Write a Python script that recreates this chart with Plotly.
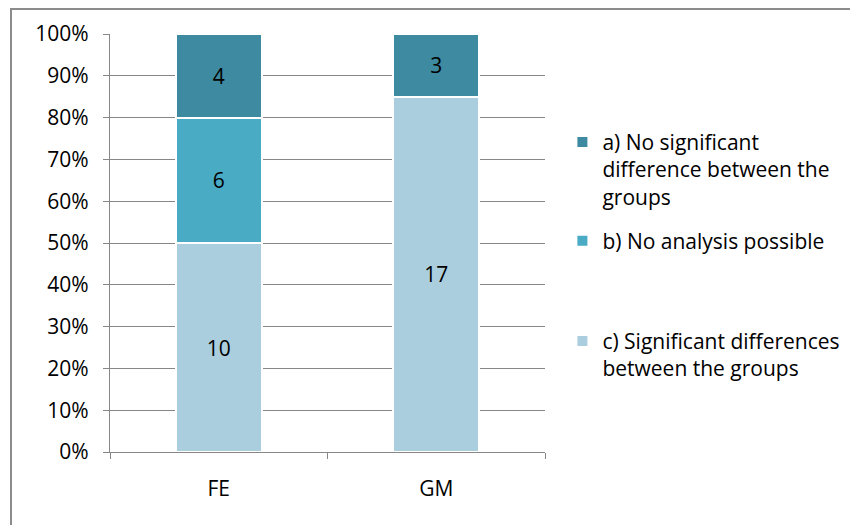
import plotly.graph_objects as go

# Study groups and the number of outcomes in each category
groups = ["FE", "GM"]
sig_diff = [10, 17]      # c) Significant differences between the groups
no_analysis = [6, 0]     # b) No analysis possible
no_sig_diff = [4, 3]     # a) No significant difference between the groups

series_names = [
    "c) Significant differences<br>between the groups",
    "b) No analysis possible",
    "a) No significant<br>difference between the<br>groups",
]
series_colors = ["#AACEDE", "#4AABC5", "#3D8AA1"]

FONT = "Open Sans, Noto Sans, DejaVu Sans, sans-serif"
FS = 21
GRID = "#878787"

fig = go.Figure()
for name, vals, color, leg, rank in zip(
    series_names, [sig_diff, no_analysis, no_sig_diff], series_colors,
    ["legend2", "legend", "legend"], [3, 2, 1],
):
    fig.add_trace(go.Bar(
        x=groups,
        y=vals,
        name=name,
        legend=leg,
        legendgroup=name,
        legendrank=rank,
        marker=dict(color=color, line=dict(color="white", width=2)),
        text=[str(v) if v else "" for v in vals],
        textposition="inside",
        insidetextanchor="middle",
        textangle=0,
        textfont=dict(family=FONT, size=FS, color="black"),
    ))

fig.update_layout(
    width=850,
    height=525,
    barmode="stack",
    barnorm="fraction",
    bargap=0.605,
    plot_bgcolor="white",
    paper_bgcolor="white",
    font=dict(family=FONT, size=FS, color="black"),
    margin=dict(l=110, r=305, t=34, b=73, autoexpand=False),
    legend=dict(
        x=1.04, xanchor="left", y=0.79, yanchor="top",
        traceorder="grouped", tracegroupgap=14,
        valign="top", font=dict(size=FS), bgcolor="rgba(0,0,0,0)",
    ),
    legend2=dict(
        x=1.04, xanchor="left", y=0.314, yanchor="top",
        valign="top", font=dict(size=FS), bgcolor="rgba(0,0,0,0)",
    ),
    shapes=[dict(
        type="rect", xref="paper", yref="paper",
        x0=-0.2276, x1=1.8, y0=-0.3, y1=1.06,
        line=dict(color="#8C8C8C", width=2), layer="below",
    )],
)

fig.update_yaxes(
    range=[0, 1], dtick=0.1, tickformat=".0%",
    showgrid=True, gridcolor=GRID, gridwidth=1.3,
    showline=True, linecolor=GRID, linewidth=1.3,
    ticks="outside", ticklen=6, tickcolor=GRID, tickwidth=1.3,
    ticklabelstandoff=10, zeroline=False,
)
fig.update_xaxes(
    showline=True, linecolor=GRID, linewidth=1.3,
    ticks="outside", ticklen=6, tickcolor=GRID, tickwidth=1.3,
    tickson="boundaries", ticklabelstandoff=18,
)

fig.write_html("out.html")
